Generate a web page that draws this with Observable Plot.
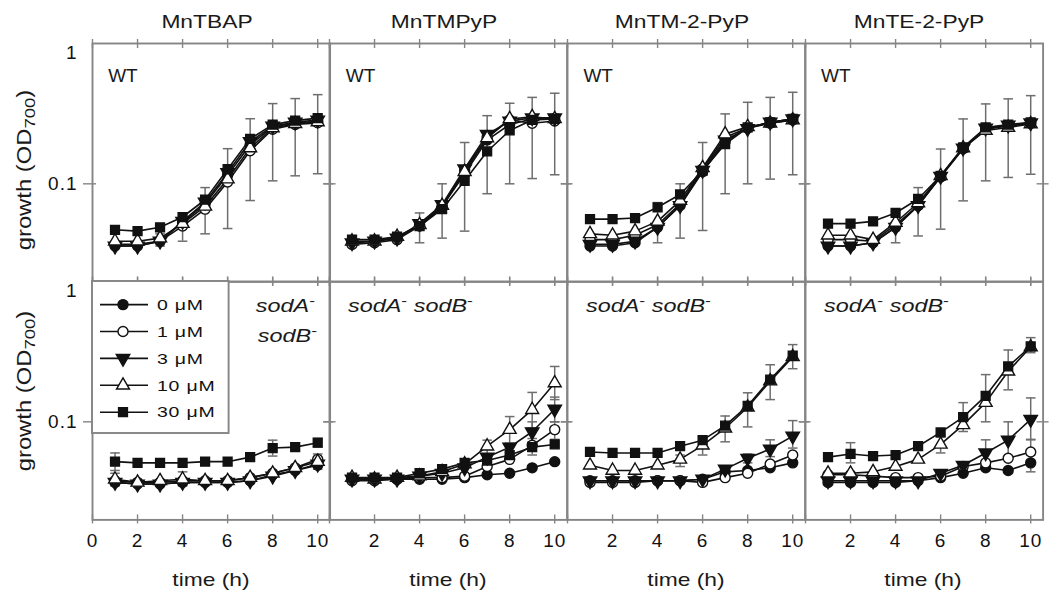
<!DOCTYPE html>
<html><head><meta charset="utf-8">
<script src="https://cdn.jsdelivr.net/npm/d3@7"></script>
<script src="https://cdn.jsdelivr.net/npm/@observablehq/plot@0.6"></script>
<style>
body{margin:0;background:#fff;}
#chart{position:relative;width:1050px;height:600px;overflow:hidden;font-family:"Liberation Sans",Arial,sans-serif;color:#1a1a1a;background:#fff}
.abs{position:absolute;white-space:nowrap;line-height:1}
</style></head>
<body><div id="chart"></div>
<script>
// ---------- data ----------
const times = [1, 2, 3, 4, 5, 6, 7, 8, 9, 10];
const compounds = ["MnTBAP", "MnTMPyP", "MnTM-2-PyP", "MnTE-2-PyP"];
const strains = ["WT", "sodA- sodB-"];
const doses = ["0 μM", "1 μM", "3 μM", "10 μM", "30 μM"];
const xTicks = [0, 2, 4, 6, 8, 10];
const yTicks = [0.1, 1];

// rows: 0, 1, 3, 10, 30 μM ; columns: time 1..10 h
const wtMnTBAP = [
  [0.036, 0.036, 0.039, 0.053, 0.072, 0.115, 0.190, 0.255, 0.270, 0.280],
  [0.037, 0.037, 0.039, 0.050, 0.066, 0.103, 0.172, 0.245, 0.265, 0.272],
  [0.036, 0.036, 0.039, 0.054, 0.074, 0.120, 0.200, 0.258, 0.275, 0.285],
  [0.039, 0.039, 0.041, 0.052, 0.069, 0.108, 0.180, 0.250, 0.268, 0.276],
  [0.047, 0.046, 0.049, 0.058, 0.077, 0.127, 0.209, 0.264, 0.282, 0.294]
];
const wtMnTMPyP = [
  [0.038, 0.039, 0.041, 0.051, 0.069, 0.118, 0.205, 0.265, 0.290, 0.292],
  [0.037, 0.038, 0.040, 0.050, 0.068, 0.125, 0.215, 0.285, 0.270, 0.280],
  [0.038, 0.039, 0.041, 0.052, 0.071, 0.128, 0.225, 0.280, 0.295, 0.295],
  [0.039, 0.039, 0.042, 0.051, 0.070, 0.122, 0.212, 0.290, 0.300, 0.290],
  [0.040, 0.040, 0.042, 0.050, 0.066, 0.105, 0.170, 0.240, 0.285, 0.290]
];
const wtMnTM2PyP = [
  [0.036, 0.036, 0.038, 0.049, 0.070, 0.122, 0.200, 0.250, 0.275, 0.290],
  [0.040, 0.040, 0.043, 0.051, 0.072, 0.128, 0.215, 0.250, 0.270, 0.285],
  [0.037, 0.037, 0.039, 0.049, 0.070, 0.125, 0.205, 0.248, 0.275, 0.290],
  [0.044, 0.043, 0.046, 0.054, 0.076, 0.130, 0.226, 0.255, 0.270, 0.285],
  [0.056, 0.056, 0.057, 0.068, 0.084, 0.124, 0.192, 0.252, 0.274, 0.290]
];
const wtMnTE2PyP = [
  [0.036, 0.036, 0.038, 0.049, 0.070, 0.113, 0.180, 0.248, 0.260, 0.270],
  [0.040, 0.040, 0.039, 0.051, 0.070, 0.112, 0.178, 0.245, 0.258, 0.270],
  [0.036, 0.036, 0.038, 0.049, 0.070, 0.113, 0.180, 0.250, 0.262, 0.272],
  [0.043, 0.043, 0.040, 0.053, 0.073, 0.114, 0.180, 0.240, 0.252, 0.267],
  [0.052, 0.052, 0.054, 0.062, 0.078, 0.114, 0.182, 0.252, 0.264, 0.274]
];
const sodMnTBAP = [
  [0.037, 0.036, 0.036, 0.037, 0.037, 0.037, 0.038, 0.042, 0.045, 0.049],
  [0.038, 0.037, 0.037, 0.038, 0.038, 0.038, 0.040, 0.043, 0.047, 0.054],
  [0.037, 0.036, 0.036, 0.037, 0.037, 0.037, 0.038, 0.041, 0.045, 0.050],
  [0.039, 0.037, 0.038, 0.039, 0.038, 0.038, 0.040, 0.043, 0.047, 0.052],
  [0.052, 0.051, 0.051, 0.051, 0.052, 0.052, 0.056, 0.065, 0.066, 0.071]
];
const sodMnTMPyP = [
  [0.039, 0.039, 0.039, 0.039, 0.039, 0.040, 0.042, 0.043, 0.047, 0.052],
  [0.038, 0.038, 0.039, 0.040, 0.040, 0.041, 0.048, 0.054, 0.068, 0.088],
  [0.039, 0.039, 0.039, 0.041, 0.043, 0.047, 0.056, 0.066, 0.085, 0.123],
  [0.040, 0.039, 0.040, 0.041, 0.044, 0.050, 0.067, 0.088, 0.122, 0.189],
  [0.040, 0.040, 0.040, 0.043, 0.046, 0.051, 0.053, 0.058, 0.066, 0.069]
];
const sodMnTM2PyP = [
  [0.038, 0.038, 0.038, 0.038, 0.038, 0.039, 0.044, 0.045, 0.047, 0.051],
  [0.037, 0.037, 0.037, 0.038, 0.038, 0.037, 0.040, 0.043, 0.050, 0.058],
  [0.038, 0.038, 0.038, 0.038, 0.038, 0.039, 0.046, 0.055, 0.064, 0.079],
  [0.049, 0.045, 0.045, 0.049, 0.054, 0.068, 0.090, 0.127, 0.195, 0.290],
  [0.061, 0.060, 0.060, 0.060, 0.067, 0.074, 0.094, 0.130, 0.200, 0.296]
];
const sodMnTE2PyP = [
  [0.037, 0.037, 0.037, 0.037, 0.038, 0.040, 0.043, 0.047, 0.045, 0.051],
  [0.042, 0.042, 0.041, 0.040, 0.040, 0.041, 0.048, 0.051, 0.055, 0.061],
  [0.038, 0.038, 0.038, 0.038, 0.038, 0.043, 0.049, 0.060, 0.074, 0.104],
  [0.043, 0.043, 0.044, 0.048, 0.054, 0.069, 0.095, 0.137, 0.229, 0.341],
  [0.056, 0.059, 0.057, 0.058, 0.067, 0.084, 0.108, 0.153, 0.248, 0.345]
];

// error bars: [dose index, time, low, high]
const errWtMnTBAP = [[0,3,0.036,0.044],[0,4,0.039,0.062],[0,5,0.044,0.094],[0,6,0.048,0.178],[0,7,0.076,0.291],[0,8,0.105,0.373],[0,9,0.114,0.405],[0,10,0.118,0.432]];
const errWtMnTMPyP = [[0,4,0.038,0.062],[0,5,0.041,0.100],[0,6,0.046,0.197],[0,7,0.085,0.306],[0,8,0.100,0.375],[0,9,0.109,0.413],[0,10,0.116,0.442]];
const errWtMnTM2PyP = [[0,4,0.038,0.0735],[0,5,0.041,0.100],[0,6,0.0465,0.197],[0,7,0.085,0.315],[0,8,0.100,0.381],[0,9,0.108,0.413],[0,10,0.116,0.449]];
const errWtMnTE2PyP = [[0,4,0.038,0.064],[0,5,0.0425,0.094],[0,6,0.0475,0.177],[0,7,0.0756,0.290],[0,8,0.105,0.371],[0,9,0.111,0.403],[0,10,0.117,0.425]];
const errSodMnTBAP = [[4,1,0.045,0.060],[4,8,0.057,0.074],[4,10,0.066,0.076],[3,1,0.035,0.043],[3,4,0.035,0.044],[1,10,0.046,0.059]];
const errSodMnTMPyP = [[3,7,0.0565,0.074],[3,8,0.0705,0.109],[3,9,0.090,0.162],[3,10,0.144,0.248],[2,9,0.072,0.100],[2,10,0.100,0.150],[1,10,0.075,0.100],[4,9,0.058,0.076]];
const errSodMnTM2PyP = [[4,7,0.072,0.110],[4,8,0.092,0.161],[4,9,0.144,0.255],[4,10,0.239,0.355],[3,6,0.058,0.078],[3,5,0.048,0.058],[2,8,0.051,0.059],[2,9,0.0565,0.0744],[2,10,0.065,0.102]];
const errSodMnTE2PyP = [[4,2,0.051,0.071],[4,7,0.0853,0.137],[4,8,0.100,0.217],[4,9,0.169,0.325],[4,10,0.311,0.398],[3,6,0.060,0.078],[2,8,0.0507,0.0744],[2,9,0.0565,0.100],[2,10,0.0744,0.148],[1,10,0.050,0.075],[0,10,0.044,0.058]];

const series = [[wtMnTBAP, wtMnTMPyP, wtMnTM2PyP, wtMnTE2PyP], [sodMnTBAP, sodMnTMPyP, sodMnTM2PyP, sodMnTE2PyP]];
const errors = [[errWtMnTBAP, errWtMnTMPyP, errWtMnTM2PyP, errWtMnTE2PyP], [errSodMnTBAP, errSodMnTMPyP, errSodMnTM2PyP, errSodMnTE2PyP]];

// ---------- styles / layout ----------
const FRAME = "#858585", ERR = "#6e6e6e", INK = "#111";
const PX = [91.7, 329.3, 566.9, 804.5], W = 237.6;
const PY = [43, 281.4], H = 238.4;
const sqrt3 = Math.sqrt(3);
const triangleDown = {draw(ctx, size) {
  const y = -Math.sqrt(size / (sqrt3 * 3));
  ctx.moveTo(0, -y * 2); ctx.lineTo(-sqrt3 * y, y); ctx.lineTo(sqrt3 * y, y); ctx.closePath();
}};
const cap = {draw(ctx, size) { const w = Math.sqrt(size / Math.PI); ctx.moveTo(-w, 0); ctx.lineTo(w, 0); }};
const doseStyle = [
  {symbol: "circle", fill: INK, r: 5},
  {symbol: "circle", fill: "white", r: 5},
  {symbol: triangleDown, fill: INK, r: 5},
  {symbol: "triangle", fill: "white", r: 4.8},
  {symbol: "square", fill: INK, r: 5}
];
const chart = document.getElementById("chart");

function panel(r, c) {
  const mL = c === 0 ? 60 : 14, mR = 14, mT = 14, mB = r === 1 ? 40 : 14;
  const rows = [];
  series[r][c].forEach((vals, di) => vals.forEach((v, ti) => rows.push({dose: doses[di], di, t: times[ti], v})));
  const errs = errors[r][c].map(([di, t, lo, hi]) => ({di, t, lo, hi}));
  const marks = [
    Plot.frame({stroke: FRAME, strokeWidth: 1.9}),
    Plot.tickX(xTicks, {x: d => d, stroke: FRAME, strokeWidth: 1.4, insetTop: H - 5, insetBottom: -4}),
    Plot.tickX(xTicks, {x: d => d, stroke: FRAME, strokeWidth: 1.4, insetTop: -4, insetBottom: H - 5}),
    Plot.tickY(yTicks.slice(0, 1), {y: d => d, stroke: FRAME, strokeWidth: 1.4, insetLeft: c === 0 ? -9 : -6, insetRight: W - 4}),
    Plot.tickY(yTicks.slice(0, 1), {y: d => d, stroke: FRAME, strokeWidth: 1.4, insetLeft: W - 6, insetRight: -6}),
    Plot.ruleX(errs, {x: "t", y1: "lo", y2: "hi", stroke: ERR, strokeWidth: 1.5}),
    Plot.dot(errs, {x: "t", y: "lo", symbol: cap, r: 4.8, stroke: ERR, strokeWidth: 1.5, fill: "none"}),
    Plot.dot(errs, {x: "t", y: "hi", symbol: cap, r: 4.8, stroke: ERR, strokeWidth: 1.5, fill: "none"}),
    Plot.line(rows, {x: "t", y: "v", z: "dose", stroke: INK, strokeWidth: 1.6}),
    ...doseStyle.map((s, di) => Plot.dot(rows.filter(d => d.di === di), {
      x: "t", y: "v", symbol: s.symbol, fill: s.fill, stroke: INK, strokeWidth: 1.4, r: s.r
    }))
  ];
  if (r === 1) {
    marks.push(Plot.text(c === 0 ? xTicks : xTicks.slice(1), {x: d => d, text: d => String(d), frameAnchor: "bottom", dy: 27, fontSize: 19}));
  }
  if (c === 0) {
    marks.push(Plot.text(yTicks.slice(0, 1), {y: d => d, text: d => String(d), frameAnchor: "left", textAnchor: "end", dx: -15, fontSize: 19}));
    marks.push(Plot.text(yTicks.slice(1), {y: d => d, text: d => String(d), frameAnchor: "left", textAnchor: "end", dx: -15, dy: 9, fontSize: 19}));
  }
  const svg = Plot.plot({
    width: W + mL + mR, height: H + mT + mB,
    marginLeft: mL, marginRight: mR, marginTop: mT, marginBottom: mB,
    x: {domain: [0, 10.55], axis: null},
    y: {type: "log", domain: [0.02, 1], axis: null},
    style: {background: "transparent", overflow: "visible", maxWidth: "none", color: INK,
            fontFamily: '"Liberation Sans", Arial, sans-serif', letterSpacing: "1px"},
    marks
  });
  const div = document.createElement("div");
  div.className = "abs";
  div.style.left = (PX[c] - mL) + "px";
  div.style.top = (PY[r] - mT) + "px";
  div.style.width = (W + mL + mR) + "px";
  div.style.height = (H + mT + mB) + "px";
  div.appendChild(svg);
  chart.appendChild(div);
}
for (let r = 0; r < 2; ++r) for (let c = 0; c < 4; ++c) panel(r, c);

function label(html, x, y, css) {
  const d = document.createElement("div");
  d.className = "abs";
  d.innerHTML = html;
  d.style.left = x + "px"; d.style.top = y + "px";
  Object.assign(d.style, css);
  chart.appendChild(d);
  return d;
}
// column titles and x axis labels
compounds.forEach((name, c) => {
  const cx = PX[c] + W / 2 - 4;
  label(name, cx, 21, {fontSize: "19px", transform: "translate(-50%,-50%) scaleX(1.2)"});
  label("time (h)", PX[c] + W / 2, 579, {fontSize: "19px", transform: "translate(-50%,-50%) scaleX(1.2)"});
});
// y axis labels
[170, 391].forEach(y => label('growth (OD<span style="font-size:0.78em;position:relative;top:0.28em">700</span>)', 25, y,
  {fontSize: "19.5px", transform: "translate(-50%,-50%) rotate(-90deg) scaleX(1.22)"}));
// strain annotations
const sup = '<span style="font-size:0.75em;position:relative;top:-0.55em;font-style:normal">-</span>';
for (let c = 0; c < 4; ++c) {
  label(strains[0], PX[c] + 16.5, 75, {fontSize: "19px", transform: "translateY(-50%)"});
}
for (let c = 1; c < 4; ++c) {
  label(`<i>sodA</i>${sup} <i>sodB</i>${sup}`, PX[c] + 19, 306, {fontSize: "18px", transformOrigin: "0 50%", transform: "translateY(-50%) scaleX(1.3)"});
}
label(`<i>sodA</i>${sup}`, PX[0] + W - 14, 306, {fontSize: "18px", transformOrigin: "100% 50%", transform: "translate(-100%,-50%) scaleX(1.3)"});
label(`<i>sodB</i>${sup}`, PX[0] + W - 12, 336, {fontSize: "18px", transformOrigin: "100% 50%", transform: "translate(-100%,-50%) scaleX(1.3)"});

// legend (inside first sodA- sodB- panel)
const lw = 136.6, lh = 152;
const leg = d3.create("svg").attr("width", lw + 2).attr("height", lh + 2)
  .style("position", "absolute").style("left", (PX[0] - 1) + "px").style("top", (PY[1] - 1) + "px").style("overflow", "visible");
leg.append("rect").attr("x", 1).attr("y", 1).attr("width", lw).attr("height", lh)
  .attr("fill", "white").attr("stroke", FRAME).attr("stroke-width", 1.9);
doses.forEach((d, i) => {
  const yy = 1 + 23.6 + i * 26.9;
  const g = leg.append("g").attr("transform", `translate(0,${yy})`);
  g.append("line").attr("x1", 9).attr("x2", 57).attr("stroke", INK).attr("stroke-width", 1.6);
  const s = doseStyle[i];
  const type = s.symbol === "circle" ? d3.symbolCircle : s.symbol === "square" ? d3.symbolSquare : s.symbol === "triangle" ? d3.symbolTriangle : s.symbol;
  g.append("path").attr("transform", "translate(32,0)").attr("d", d3.symbol(type, s.r * s.r * Math.PI)())
    .attr("fill", s.fill).attr("stroke", INK).attr("stroke-width", 1.4);
  g.append("text").attr("transform", "translate(66,0) scale(1.3,1)").attr("dy", "0.35em")
    .attr("font-size", 15).attr("letter-spacing", "0.6px").attr("fill", INK)
    .attr("font-family", '"Liberation Sans", Arial, sans-serif').text(d);
});
chart.appendChild(leg.node());
</script>
</body></html>
